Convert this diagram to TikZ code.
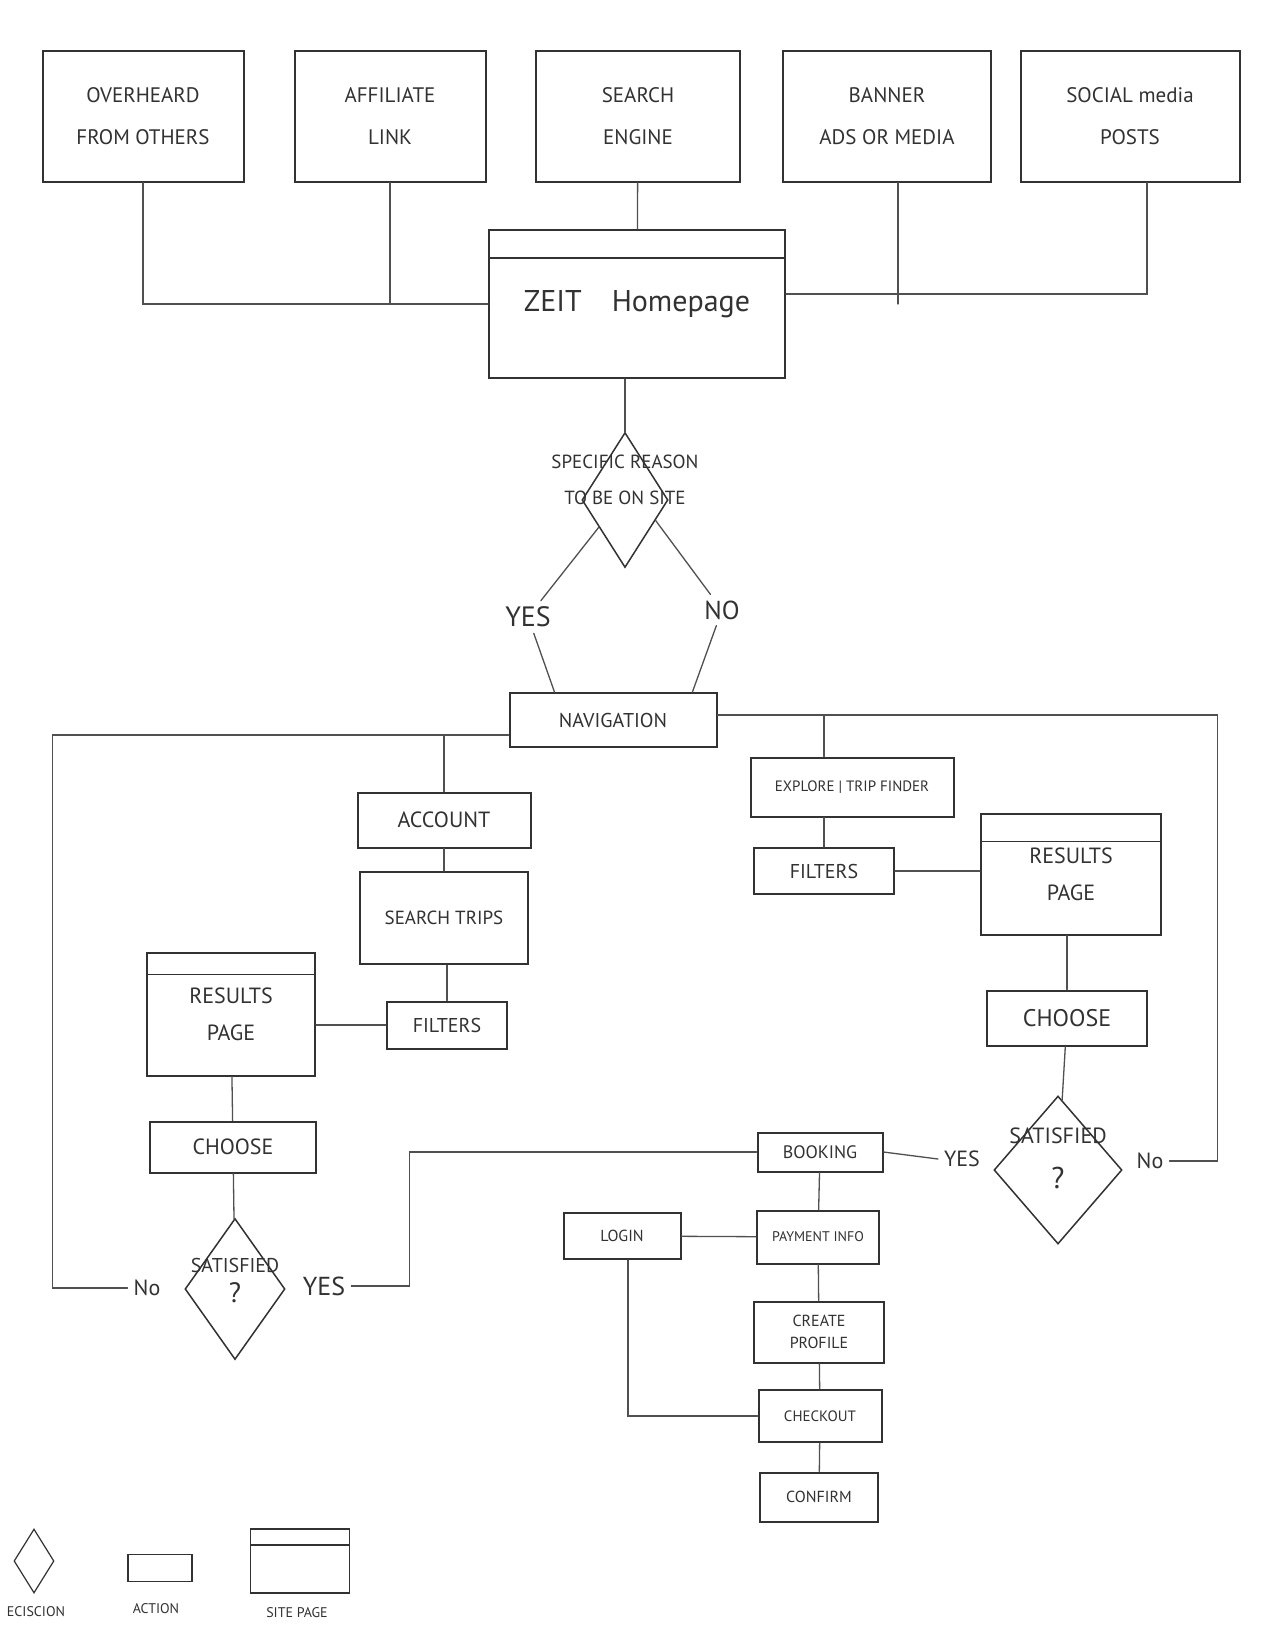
\documentclass[tikz,border=0pt]{standalone}
\usepackage{fontspec}
\setmainfont{PT Sans}
\usetikzlibrary{shapes.geometric,calc}

\definecolor{pencil}{RGB}{50,50,50}
\definecolor{lead}{RGB}{80,80,80}
\newcommand{\hand}[2]{\fontsize{#1}{#2}\selectfont}

\begin{document}
\begin{tikzpicture}[x=1pt,y=-1pt,
  box/.style={draw=pencil, line width=2pt, text=pencil, inner sep=2pt, align=center},
  action/.style={box, font=\hand{20pt}{24pt}},
  source/.style={box, minimum height=131pt, font=\hand{21pt}{42pt}},
  sitepage/.style={box, font=\hand{22pt}{37pt},
    path picture={\draw[pencil, line width=1.6pt]
      ([yshift=-#1]path picture bounding box.north west) --
      ([yshift=-#1]path picture bounding box.north east);}},
  sitepage/.default=24pt,
  decision/.style={diamond, draw=pencil, line width=1.5pt, inner sep=0pt},
  lbl/.style={text=pencil, inner sep=6pt, font=\hand{22pt}{26pt}},
  link/.style={draw=lead, line width=1.3pt, line cap=round}]

  % paper
  \fill[white] (0,0) rectangle (1275,1650);
  \useasboundingbox (0,0) rectangle (1275,1650);

  % where visitors come from
  \foreach \nm/\cx/\w/\txt in {over/143/201/{OVERHEARD\\FROM OTHERS},
      aff/390/191/{AFFILIATE\\LINK}, seng/638/204/{SEARCH\\ENGINE},
      ban/887/208/{BANNER\\ADS OR MEDIA}, soc/1130/219/{SOCIAL media\\POSTS}} {
    \node[source, minimum width=\w pt] (\nm) at (\cx,116) {\txt};
  }

  % homepage and first decision
  \node[sitepage=28pt, minimum width=296pt, minimum height=148pt,
        font=\hand{30pt}{36pt}] (home) at (637,304) {ZEIT\quad Homepage};
  \node[decision, minimum width=86pt, minimum height=135pt] (reason) at (625,500) {};
  \node[lbl, inner sep=0pt, align=center, font=\hand{19pt}{36pt}] (reasontxt)
        at ([yshift=20pt]reason.center) {SPECIFIC REASON\\TO BE ON SITE};
  \node[lbl, font=\hand{28pt}{30pt}] (yes1) at (528,617) {YES};
  \node[lbl, font=\hand{26pt}{30pt}] (no1) at (722,610) {NO};
  \node[action, minimum width=207pt, minimum height=54pt] (nav) at (613,720) {NAVIGATION};
  \coordinate (lbus) at ([yshift=-15pt]nav.west);
  \coordinate (rbus) at ([yshift=5pt]nav.east);

  % account / search trips branch
  \node[action, minimum width=173pt, minimum height=55pt, font=\hand{22pt}{24pt}] (acct) at (444,820) {ACCOUNT};
  \node[action, minimum width=168pt, minimum height=92pt, font=\hand{19pt}{24pt}] (strips) at (444,918) {SEARCH TRIPS};
  \node[action, minimum width=120pt, minimum height=47pt] (filtL) at (447,1025) {FILTERS};
  \node[sitepage=22pt, minimum width=168pt, minimum height=123pt] (resL) at (231,1014) {RESULTS\\PAGE};
  \node[action, minimum width=166pt, minimum height=51pt, font=\hand{22pt}{24pt}] (chooseL) at (233,1147) {CHOOSE};
  \node[decision, minimum width=100pt, minimum height=141pt] (satL) at (235,1289) {};
  \node[lbl, inner sep=0pt, font=\hand{20pt}{24pt}] (satLtxt) at ([yshift=24pt]satL.center) {SATISFIED};
  \node[lbl, inner sep=0pt, font=\hand{28pt}{30pt}] (satLq) at ([yshift=-4pt]satL.center) {?};
  \node[lbl] (noL) at (147,1288) {No};
  \node[lbl, font=\hand{26pt}{30pt}] (yesL) at (324,1286) {YES};

  % explore branch
  \node[action, minimum width=203pt, minimum height=59pt, font=\hand{15pt}{18pt}] (explore) at (852,787) {EXPLORE | TRIP FINDER};
  \node[action, minimum width=140pt, minimum height=46pt] (filtR) at (824,871) {FILTERS};
  \node[sitepage=28pt, minimum width=180pt, minimum height=121pt] (resR) at (1071,874) {RESULTS\\PAGE};
  \node[action, minimum width=160pt, minimum height=55pt, font=\hand{24pt}{26pt}] (chooseR) at (1067,1018) {CHOOSE};
  \node[decision, minimum width=128pt, minimum height=148pt] (satR) at (1058,1170) {};
  \node[lbl, inner sep=0pt] (satRtxt) at ([yshift=34pt]satR.center) {SATISFIED};
  \node[lbl, inner sep=0pt, font=\hand{30pt}{30pt}] (satRq) at ([yshift=-8pt]satR.center) {?};
  \node[lbl] (yesR) at (962,1159) {YES};
  \node[lbl] (noR) at (1150,1161) {No};

  % booking steps
  \node[action, minimum width=125pt, minimum height=39pt, font=\hand{18pt}{22pt}] (book) at (820,1152) {BOOKING};
  \node[action, minimum width=122pt, minimum height=53pt, font=\hand{14pt}{18pt}] (pay) at (818,1237) {PAYMENT INFO};
  \node[action, minimum width=117pt, minimum height=46pt, font=\hand{16pt}{20pt}] (login) at (622,1236) {LOGIN};
  \node[action, minimum width=130pt, minimum height=61pt, font=\hand{16pt}{22pt}] (profile) at (819,1332) {CREATE\\PROFILE};
  \node[action, minimum width=123pt, minimum height=52pt, font=\hand{15pt}{20pt}] (checkout) at (820,1416) {CHECKOUT};
  \node[action, minimum width=118pt, minimum height=49pt, font=\hand{16pt}{20pt}] (confirm) at (819,1497) {CONFIRM};

  % legend
  \node[decision, line width=1.2pt, minimum width=40pt, minimum height=64pt] (legdec) at (34,1561) {};
  \node[box, line width=1.5pt, minimum width=64pt, minimum height=27pt] (legact) at (160,1568) {};
  \node[sitepage=16pt, line width=1.5pt, minimum width=99pt, minimum height=64pt] (legpage) at (300,1561) {};
  \node[lbl, inner sep=0pt, font=\hand{14pt}{16pt}] (legdectxt) at (36,1612) {ECISCION};
  \node[lbl, inner sep=0pt, font=\hand{14pt}{16pt}] (legacttxt) at (156,1609) {ACTION};
  \node[lbl, inner sep=0pt, font=\hand{14pt}{16pt}] (legpagetxt) at (297,1613) {SITE PAGE};

  % sources into the homepage
  \draw[link] (over.south) |- (home.west);
  \draw[link] (aff.south) -- (aff.south |- home.west);
  \draw[link] (seng) -- (home);
  \draw[link] ([xshift=11pt]ban.south) -- ([xshift=11pt]ban.south |- home.east);
  \draw[link] ([xshift=17pt]soc.south) |- ([yshift=10pt]home.east);

  % first decision
  \draw[link] (reason.north) -- (reason.north |- home.south);
  \draw[link] ($(reason.west)!0.4!(reason.south)$) -- (yes1) -- ($(nav.north west)!0.22!(nav.north east)$);
  \draw[link] ($(reason.east)!0.3!(reason.south)$) -- (no1) -- ($(nav.north west)!0.88!(nav.north east)$);

  % left side
  \draw[link] (lbus) -| ([xshift=-75pt]noL.west) -- (noL.west);
  \draw[link] (acct.north) -- (acct.north |- lbus);
  \draw[link] (acct) -- (strips);
  \draw[link] (filtL.north) -- (filtL.north |- strips.south);
  \draw[link] (filtL.west) -- (filtL.west -| resL.east);
  \draw[link] (resL) -- (chooseL);
  \draw[link] (chooseL) -- (satL);
  \draw[link] (yesL.east) -- ++(58,0) |- (book.west);

  % right side
  \draw[link] (rbus) -| ([xshift=48pt]noR.east) -- (noR.east);
  \draw[link] (filtR.north |- explore.north) -- (filtR.north |- rbus);
  \draw[link] (filtR.north) -- (filtR.north |- explore.south);
  \draw[link] (filtR.east) -- (filtR.east -| resR.west);
  \draw[link] (chooseR.north) -- (chooseR.north |- resR.south);
  \draw[link] (chooseR) -- (satR);
  \draw[link] (book.east) -- (yesR.west);

  % booking chain
  \draw[link] (book) -- (pay) -- (profile) -- (checkout) -- (confirm);
  \draw[link] (login) -- (pay);
  \draw[link] ([xshift=6pt]login.south) |- (checkout.west);

\end{tikzpicture}
\end{document}
